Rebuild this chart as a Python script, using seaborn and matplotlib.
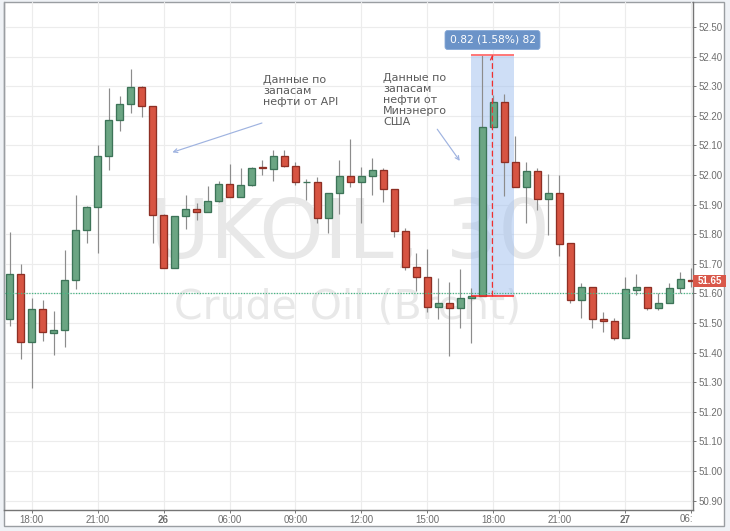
import pandas as pd
import numpy as np
import matplotlib
matplotlib.use('Agg')
import matplotlib.pyplot as plt
from matplotlib.patches import Rectangle
import seaborn as sns

# candle values, one per 30 min bar
open_p = [51.515, 51.666, 51.436, 51.547, 51.467, 51.476, 51.646, 51.816, 51.892, 52.066,
          52.187, 52.241, 52.298, 52.232, 51.866, 51.685, 51.861, 51.887, 51.875, 51.911,
          51.971, 51.926, 51.966, 52.026, 52.022, 52.066, 52.032, 51.978, 51.978, 51.855,
          51.940, 51.998, 51.977, 51.997, 52.017, 51.952, 51.810, 51.691, 51.657, 51.555,
          51.566, 51.551, 51.585, 51.591, 52.161, 52.248, 52.043, 51.961, 52.013, 51.920,
          51.939, 51.769, 51.578, 51.621, 51.514, 51.508, 51.451, 51.613, 51.621, 51.552,
          51.567, 51.618, 51.647]
close_p = [51.666, 51.436, 51.547, 51.468, 51.476, 51.646, 51.816, 51.892, 52.066, 52.187,
           52.241, 52.298, 52.232, 51.866, 51.685, 51.862, 51.887, 51.874, 51.913, 51.971,
           51.926, 51.966, 52.025, 52.023, 52.066, 52.031, 51.977, 51.978, 51.855, 51.941,
           51.998, 51.977, 51.998, 52.017, 51.952, 51.810, 51.690, 51.656, 51.555, 51.566,
           51.551, 51.586, 51.593, 52.164, 52.248, 52.043, 51.961, 52.013, 51.920, 51.939,
           51.768, 51.578, 51.621, 51.514, 51.507, 51.451, 51.614, 51.622, 51.552, 51.568,
           51.618, 51.648, 51.641]
high_p = [51.808, 51.698, 51.583, 51.579, 51.542, 51.748, 51.933, 51.895, 52.103, 52.293,
          52.267, 52.360, 52.300, 52.235, 51.869, 51.862, 51.933, 51.907, 51.962, 51.979,
          52.039, 52.024, 52.026, 52.052, 52.084, 52.084, 52.045, 51.988, 51.993, 51.941,
          52.052, 52.123, 52.026, 52.058, 52.024, 51.952, 51.821, 51.738, 51.749, 51.652,
          51.638, 51.684, 51.619, 52.407, 52.270, 52.274, 52.132, 52.043, 52.023, 52.002,
          51.999, 51.772, 51.634, 51.621, 51.536, 51.516, 51.655, 51.666, 51.621, 51.603,
          51.634, 51.674, 51.685]
low_p = [51.489, 51.379, 51.279, 51.439, 51.393, 51.419, 51.614, 51.770, 51.738, 52.018,
         52.149, 52.210, 52.198, 51.771, 51.685, 51.685, 51.818, 51.848, 51.875, 51.909,
         51.926, 51.926, 51.963, 51.999, 51.980, 52.027, 51.968, 51.917, 51.838, 51.805,
         51.870, 51.960, 51.838, 51.934, 51.909, 51.791, 51.678, 51.609, 51.538, 51.514,
         51.390, 51.484, 51.433, 51.591, 52.161, 51.929, 51.961, 51.839, 51.882, 51.797,
         51.728, 51.569, 51.518, 51.484, 51.470, 51.443, 51.451, 51.595, 51.544, 51.544,
         51.567, 51.600, 51.621]

x_ticks = [2, 8, 14, 20, 26, 32, 38, 44, 50, 56]
x_labels = ['18:00', '21:00', '26', '06:00', '09:00', '12:00', '15:00', '18:00', '21:00', '27']
y_ticks = [50.9, 51.0, 51.1, 51.2, 51.3, 51.4, 51.5, 51.6, 51.7, 51.8, 51.9,
           52.0, 52.1, 52.2, 52.3, 52.4, 52.5]

last_price = 51.65
line_price = 51.603
measure_lo = 51.591
measure_hi = 52.407

GREEN, GREEN_EDGE = '#6ba583', '#3d7458'
RED, RED_EDGE = '#d75442', '#8e2f24'
W, H = 730, 531


def fx(px):
    return px / W


def fy(py):
    return 1 - py / H


def load_data():
    df = pd.DataFrame({'open': open_p, 'close': close_p, 'high': high_p, 'low': low_p})
    df['idx'] = np.arange(len(df))
    df['bottom'] = df[['open', 'close']].min(axis=1)
    df['body'] = (df['close'] - df['open']).abs()
    df['up'] = df['close'] >= df['open']
    return df


def frame(fig):
    # white panel with thin border, pale page behind
    fig.patches.append(Rectangle((fx(3.7), fy(526)), fx(720), 524 / H, transform=fig.transFigure,
                                 facecolor='white', edgecolor='#9a9ea2', lw=1, figure=fig, zorder=-1))


def draw_candles(ax, df):
    ax.vlines(df['idx'], df['low'], df['high'], color='#8c8c8c', lw=0.85, zorder=3)
    for up, color, edge in [(True, GREEN, GREEN_EDGE), (False, RED, RED_EDGE)]:
        part = df[df['up'] == up]
        sns.barplot(data=part, x='idx', y='body', bottom=part['bottom'], native_scale=True,
                    width=0.62, color=color, saturation=1, edgecolor=edge, linewidth=0.95,
                    zorder=4, ax=ax)


def draw_overlays(ax):
    # watermark
    trans = ax.figure.transFigure
    ax.text(fx(350), fy(258), 'UKOIL, 30', transform=trans, ha='center', va='baseline',
            fontsize=59, color='#e8e8e8', zorder=1)
    ax.text(fx(348), fy(318), 'Crude Oil (Brent)', transform=trans, ha='center', va='baseline',
            fontsize=29.5, color='#e8e8e8', zorder=1)

    # measuring tool
    ax.fill_between([41.96, 45.9], measure_lo, measure_hi, color='#9fbfef', alpha=0.5, lw=0, zorder=2)
    ax.hlines(measure_hi, 41.96, 45.9, color='#f77', lw=1.4, zorder=5)
    ax.hlines(measure_lo, 41.96, 45.9, color='#f22', lw=1.1, zorder=5)
    ax.annotate('', xy=(43.92, measure_hi), xytext=(43.92, measure_lo), zorder=6,
                arrowprops=dict(arrowstyle='->', color='#f03030', lw=0.9, linestyle=(0, (4, 3)),
                                shrinkA=0, shrinkB=0, mutation_scale=7))
    ax.text(fx(492.5), fy(40), '0.82 (1.58%) 82', transform=trans, ha='center', va='center',
            fontsize=7.7, color='white', fontweight='medium', zorder=7,
            bbox=dict(boxstyle='round,pad=0.42,rounding_size=0.25', facecolor='#6b93c8', edgecolor='#86a8d6', lw=0.6))

    ax.axhline(line_price, color='#45b583', lw=0.9, ls=(0, (1, 1.2)), zorder=5)

    # notes
    ax.text(fx(263), fy(75), 'Данные по\nзапасам\nнефти от API', transform=trans, ha='left', va='top',
            fontsize=8, color='#5a5a5a', linespacing=1.13, zorder=7)
    ax.text(fx(383), fy(73), 'Данные по\nзапасам\nнефти от\nМинэнерго\nСША', transform=trans, ha='left',
            va='top', fontsize=8, color='#5a5a5a', linespacing=1.13, zorder=7)
    arrow = dict(arrowstyle='->', color='#9fb3e0', lw=0.85, shrinkA=0, shrinkB=0, mutation_scale=7)
    ax.annotate('', xy=(14.8, 52.077), xytext=(22.95, 52.176), arrowprops=arrow, zorder=7)
    ax.annotate('', xy=(40.95, 52.048), xytext=(38.9, 52.155), arrowprops=arrow, zorder=7)


def style_axes(ax):
    ax.set_xlim(-0.547, 62.17)
    ax.set_ylim(50.867, 52.585)
    ax.set_xlabel('')
    ax.set_ylabel('')
    ax.set_axisbelow(True)
    ax.grid(True, color='#ececec', lw=0.85)

    ax.set_xticks(x_ticks + [62])
    ax.set_xticklabels(x_labels + [''])
    ax.set_yticks(y_ticks)
    ax.set_yticklabels([f'{v:.2f}' for v in y_ticks])
    ax.yaxis.tick_right()
    ax.tick_params(axis='both', length=2.5, width=0.7, color='#777777', labelcolor='#6e6e6e',
                   labelsize=7, pad=1.5, bottom=True, right=True)
    ax.tick_params(axis='x', pad=0.8)
    for lab in ax.get_xticklabels():
        if lab.get_text() in ('26', '27'):
            lab.set_fontweight('bold')
    for side in ['left', 'right', 'bottom']:
        ax.spines[side].set_visible(True)
        ax.spines[side].set_color('#757575')
        ax.spines[side].set_linewidth(1.0)
        ax.spines[side].set_zorder(8)
    ax.spines['left'].set_color('#9a9ea2')
    ax.spines['top'].set_visible(False)


def price_tag(fig):
    fig.patches.append(Rectangle((fx(693), fy(287)), fx(33), 12 / H, transform=fig.transFigure,
                                 facecolor='#d9584a', edgecolor='none', figure=fig, zorder=5))
    fig.text(fx(709.5), fy(281), f'{last_price:.2f}', ha='center', va='center', color='white',
             fontsize=7, fontweight='bold', zorder=10)
    # last time label is cut at the panel edge in the reference
    fig.text(fx(680), fy(519), '06:', ha='left', va='center', color='#6e6e6e', fontsize=7)


def main():
    sns.set_theme(style='white')
    plt.rcParams['font.family'] = ['Liberation Sans', 'DejaVu Sans']

    df = load_data()
    fig = plt.figure(figsize=(W / 100, H / 100), dpi=100, facecolor='#eff2f6')
    frame(fig)
    ax = fig.add_axes([fx(3.7), fy(510.3), fx(689.3), 508.3 / H], facecolor='none')

    draw_candles(ax, df)
    draw_overlays(ax)
    style_axes(ax)
    for t in ax.texts:
        if t.get_text():
            t.set_family('DejaVu Sans')
    price_tag(fig)

    fig.savefig('out.png', dpi=100, facecolor=fig.get_facecolor())
    print('Saved out.png')


if __name__ == '__main__':
    main()
